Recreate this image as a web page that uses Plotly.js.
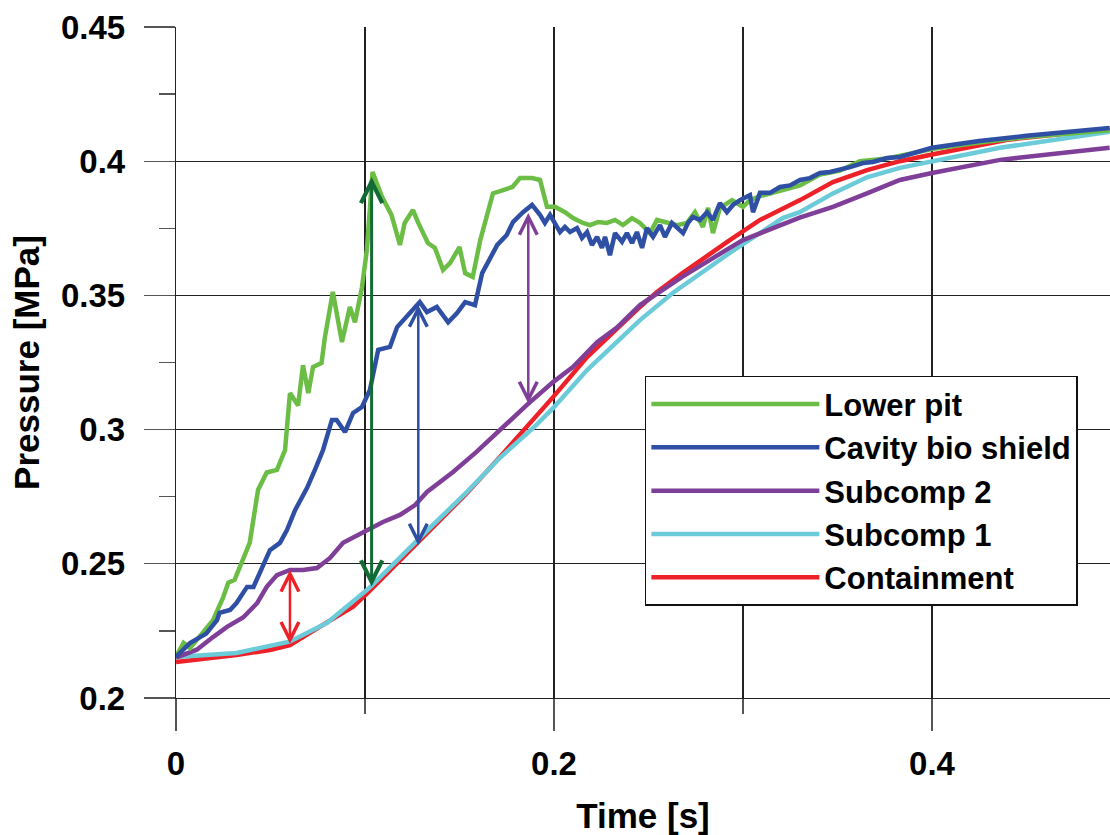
<!DOCTYPE html>
<html>
<head>
<meta charset="utf-8">
<script src="https://cdn.plot.ly/plotly-3.0.1.min.js"></script>
<style>html,body{margin:0;padding:0;background:#fff;}#chart{width:1110px;height:835px;}</style>
</head>
<body>
<div id="chart"></div>
<script>
// ---- data ----
const seriesNames = ["Lower pit", "Cavity bio shield", "Subcomp 2", "Subcomp 1", "Containment"];

const tLower = [0,0.004,0.0074,0.014,0.0196,0.025,0.0277,0.031,0.034,0.039,0.0434,0.048,0.0534,0.0577,0.0603,0.0646,0.0672,0.070,0.0725,0.077,0.0788,0.083,0.0878,0.092,0.0947,0.0984,0.101,0.104,0.109,0.1106,0.114,0.1185,0.121,0.1254,0.128,0.1333,0.137,0.1413,0.145,0.150,0.153,0.157,0.161,0.1677,0.173,0.178,0.182,0.1884,0.1926,0.1963,0.2005,0.2058,0.2101,0.2153,0.2190,0.2233,0.2280,0.2323,0.2365,0.2413,0.2455,0.2508,0.2545,0.2598,0.2651,0.2704,0.2746,0.2788,0.2815,0.2841,0.2878,0.2942,0.300,0.3037,0.309,0.3196,0.3302,0.3407,0.3513,0.3619,0.3762,0.400,0.425,0.450,0.475,0.494];
const pLower = [0.2155,0.2205,0.2186,0.224,0.229,0.2376,0.243,0.244,0.2496,0.2578,0.2775,0.284,0.285,0.2924,0.3136,0.309,0.324,0.3136,0.3233,0.3248,0.3345,0.3513,0.3326,0.3457,0.340,0.353,0.367,0.396,0.3867,0.3844,0.380,0.3688,0.377,0.3818,0.3773,0.3695,0.3677,0.3595,0.362,0.368,0.3583,0.3569,0.3706,0.388,0.3893,0.3904,0.3937,0.3937,0.393,0.383,0.383,0.381,0.3788,0.377,0.3762,0.3773,0.377,0.3781,0.3762,0.3788,0.377,0.3732,0.3781,0.377,0.3762,0.377,0.381,0.3755,0.3826,0.3732,0.3826,0.3855,0.383,0.3855,0.387,0.389,0.391,0.395,0.3965,0.400,0.401,0.4045,0.407,0.409,0.4105,0.4115];

const tCavity = [0,0.0074,0.016,0.0217,0.023,0.0286,0.032,0.0376,0.041,0.0455,0.0497,0.055,0.0587,0.063,0.0693,0.0735,0.0778,0.0825,0.085,0.0894,0.0937,0.0984,0.1026,0.107,0.1132,0.117,0.1228,0.129,0.1328,0.138,0.144,0.1487,0.153,0.1582,0.162,0.166,0.170,0.175,0.1783,0.1836,0.1884,0.1926,0.1952,0.1979,0.2005,0.2032,0.2058,0.2085,0.2122,0.2148,0.2175,0.2201,0.2228,0.2254,0.2270,0.2296,0.2323,0.2360,0.2386,0.2413,0.2439,0.2466,0.2492,0.2524,0.2561,0.2587,0.2624,0.2656,0.2683,0.2709,0.2735,0.2772,0.2810,0.2841,0.2878,0.2915,0.2947,0.2984,0.3037,0.3053,0.3090,0.3143,0.3196,0.3249,0.3302,0.3354,0.3407,0.3460,0.3513,0.3566,0.3635,0.3688,0.3762,0.3831,0.400,0.425,0.450,0.475,0.494];
const pCavity = [0.2153,0.2205,0.224,0.229,0.2317,0.2328,0.2354,0.2414,0.2414,0.2488,0.2551,0.2578,0.2626,0.270,0.2782,0.285,0.2924,0.3036,0.3036,0.2991,0.3062,0.3084,0.3148,0.3297,0.3308,0.3382,0.3427,0.3475,0.3438,0.3457,0.340,0.3434,0.3475,0.3464,0.3583,0.3632,0.3688,0.3725,0.3773,0.381,0.3837,0.380,0.377,0.380,0.377,0.3736,0.3755,0.3736,0.3751,0.3714,0.3736,0.3688,0.3718,0.3677,0.3718,0.365,0.3732,0.370,0.3732,0.3695,0.3736,0.3677,0.3751,0.3718,0.3762,0.3718,0.377,0.3751,0.3732,0.377,0.3792,0.3781,0.381,0.3781,0.3844,0.381,0.3837,0.3855,0.3874,0.381,0.3882,0.3882,0.3904,0.391,0.393,0.3937,0.3956,0.396,0.3967,0.3978,0.3993,0.3997,0.4012,0.4016,0.405,0.4075,0.4095,0.411,0.4124];

const tSub2 = [0,0.011,0.0196,0.027,0.0355,0.043,0.048,0.0534,0.0603,0.0672,0.0746,0.0815,0.0884,0.099,0.1095,0.1185,0.1265,0.1328,0.1466,0.159,0.1714,0.1857,0.1995,0.210,0.2228,0.2333,0.2455,0.251,0.268,0.293,0.300,0.330,0.3476,0.3656,0.383,0.400,0.436,0.494];
const pSub2 = [0.215,0.218,0.2227,0.2265,0.230,0.2354,0.2414,0.2458,0.2477,0.2477,0.2484,0.2522,0.2578,0.2615,0.2656,0.2682,0.2719,0.2768,0.2842,0.2917,0.2999,0.3092,0.3177,0.3233,0.3326,0.338,0.3464,0.349,0.357,0.3677,0.3706,0.379,0.383,0.388,0.393,0.3956,0.4005,0.405];

const tSub1 = [0,0.032,0.060,0.080,0.1026,0.1185,0.136,0.154,0.1714,0.189,0.1995,0.2175,0.2455,0.263,0.293,0.321,0.330,0.3476,0.3656,0.383,0.400,0.436,0.494];
const pSub1 = [0.2153,0.2168,0.221,0.228,0.2412,0.2525,0.2645,0.2768,0.2895,0.3006,0.308,0.3222,0.3408,0.351,0.3658,0.3788,0.381,0.388,0.394,0.3975,0.400,0.405,0.411];

const tCont = [0,0.032,0.0497,0.0603,0.076,0.0937,0.1026,0.1185,0.1275,0.136,0.154,0.1714,0.1857,0.1995,0.2175,0.2312,0.2455,0.2545,0.268,0.293,0.309,0.3302,0.3476,0.3656,0.383,0.400,0.440,0.494];
const pCont = [0.2134,0.216,0.2179,0.2197,0.2265,0.234,0.240,0.2514,0.2578,0.2637,0.2764,0.2898,0.301,0.3121,0.327,0.3364,0.3457,0.3513,0.3583,0.3706,0.3781,0.3855,0.3922,0.3967,0.400,0.4025,0.408,0.412];

// double-headed arrows: x position, lower end, upper end
const arrowX   = [0.0603, 0.1035, 0.1282, 0.1864];
const arrowLo  = [0.2197, 0.2410, 0.2563, 0.3092];
const arrowHi  = [0.2477, 0.3941, 0.3464, 0.3807];

const xTickVals = [0, 0.2, 0.4];

// ---- styles ----
const colors = ["#6cbd45", "#2e4fa3", "#7f3f98", "#6ccbd9", "#ee2129"];
const arrowColors = ["#ee2129", "#126b35", "#2e4fa3", "#7f3f98"];
const arrowWidths = [2.5, 3, 2.5, 2.5];
const FONT = '"Liberation Sans", Arial, sans-serif';

const xs = [tLower, tCavity, tSub2, tSub1, tCont];
const ys = [pLower, pCavity, pSub2, pSub1, pCont];
const order = [4, 3, 2, 0, 1];
const traces = order.map(i => ({
  type: 'scatter', mode: 'lines', name: seriesNames[i],
  x: xs[i], y: ys[i],
  line: {color: colors[i], width: 4.5},
  legendrank: i + 1
}));

const annotations = arrowX.map((x, i) => ({
  x: x, y: arrowHi[i], ax: x, ay: arrowLo[i],
  xref: 'x', yref: 'y', axref: 'x', ayref: 'y',
  text: '', showarrow: true, arrowside: 'end+start',
  arrowhead: 5, startarrowhead: 5, arrowsize: 1.4, startarrowsize: 1.4,
  arrowwidth: arrowWidths[i], arrowcolor: arrowColors[i], standoff: 0, startstandoff: 0
}));

const layout = {
  width: 1110, height: 835,
  margin: {l: 176, r: 0, t: 27, b: 137},
  paper_bgcolor: '#fff', plot_bgcolor: '#fff',
  showlegend: true,
  legend: {
    x: 0.502, y: 0.48, xanchor: 'left', yanchor: 'top',
    bgcolor: '#fff', bordercolor: '#111', borderwidth: 1.5,
    font: {family: FONT, size: 31, color: '#000', weight: 'bold'},
    itemwidth: 168, traceorder: 'normal'
  },
  xaxis: {
    range: [0, 0.4942], tickvals: xTickVals, ticktext: xTickVals.map(String),
    ticks: 'outside', ticklen: 32, tickwidth: 1.3, tickcolor: '#555',
    ticklabelstandoff: 4,
    showgrid: true, gridcolor: '#222', gridwidth: 1.2,
    zeroline: false, showline: true, linecolor: '#222', linewidth: 1.2,
    tickfont: {family: FONT, size: 33, color: '#000', weight: 'bold'},
    minor: {dtick: 0.1, tick0: 0, ticks: 'outside', ticklen: 15, tickwidth: 1.3, tickcolor: '#555', showgrid: true, gridcolor: '#222', gridwidth: 1.2},
    title: {text: 'Time [s]', font: {family: FONT, size: 35, color: '#000', weight: 'bold'}, standoff: 22}
  },
  yaxis: {
    range: [0.2, 0.45], dtick: 0.05, tick0: 0,
    ticks: 'outside', ticklen: 31, tickwidth: 1.3, tickcolor: '#555',
    ticklabelstandoff: 12,
    showgrid: true, gridcolor: '#222', gridwidth: 1.2,
    zeroline: false, showline: true, linecolor: '#222', linewidth: 1.2,
    tickfont: {family: FONT, size: 33, color: '#000', weight: 'bold'},
    minor: {dtick: 0.025, tick0: 0, ticks: 'outside', ticklen: 16, tickwidth: 1.3, tickcolor: '#555', showgrid: false},
    title: {text: 'Pressure [MPa]', font: {family: FONT, size: 35, color: '#000', weight: 'bold'}, standoff: 10}
  },
  annotations: annotations
};

Plotly.newPlot('chart', traces, layout, {displayModeBar: false, staticPlot: true});
</script>
</body>
</html>
